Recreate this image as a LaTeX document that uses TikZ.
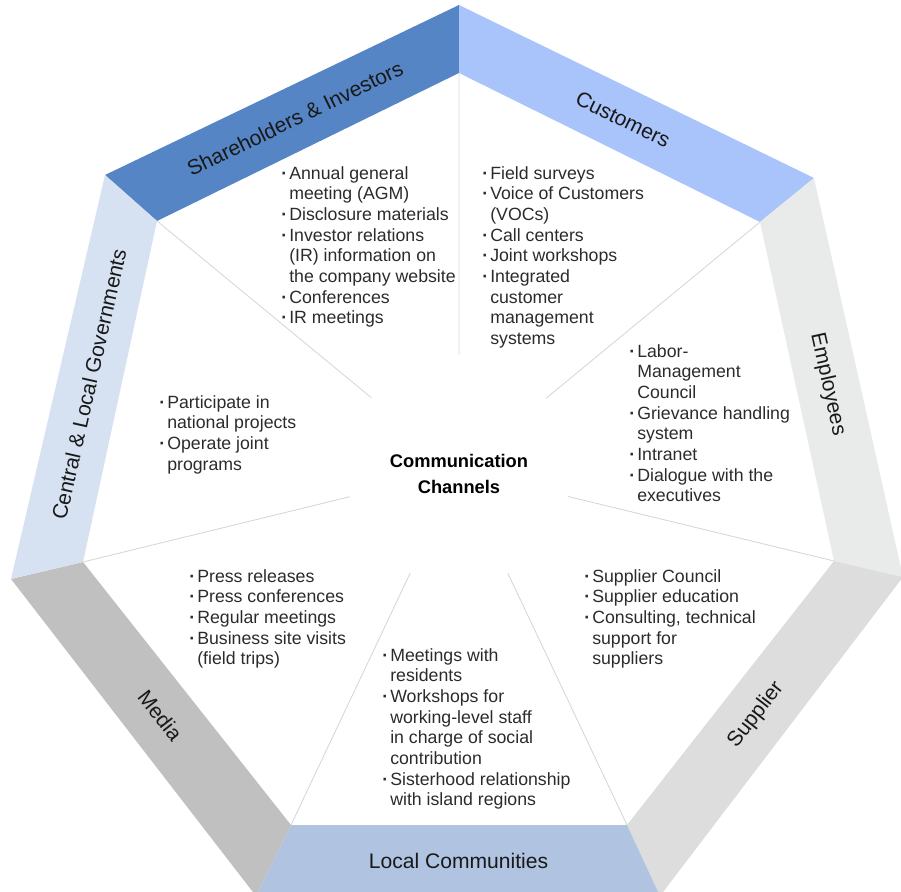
\documentclass[tikz,border=0pt]{standalone}
\usepackage{fontspec}
\setmainfont{Liberation Sans}
\usetikzlibrary{calc}

\definecolor{shareblue}{HTML}{5585C5}
\definecolor{custblue}{HTML}{A9C4FB}
\definecolor{emplgray}{HTML}{E9EBEA}
\definecolor{suppgray}{HTML}{DCDDDC}
\definecolor{commblue}{HTML}{B0C4E2}
\definecolor{mediagray}{HTML}{BFC0BF}
\definecolor{govblue}{HTML}{D6E2F2}
\definecolor{spokegray}{HTML}{D6D6D6}
\definecolor{txtgray}{HTML}{2B2B2B}

\newcommand{\bul}{\leavevmode\llap{{\bfseries\textperiodcentered}\hspace{1.5pt}}}

\begin{document}
\begin{tikzpicture}[x=0.025cm, y=0.025cm,
    spoke/.style={draw=spokegray, line width=0.6pt},
    items/.style={anchor=north west, align=left, inner sep=0pt, text=txtgray,
      font=\fontsize{12.6}{14.7}\selectfont},
    bandlabel/.style={midway, sloped, inner sep=0pt, text=black!90,
      font=\fontsize{15}{18}\selectfont}]
  \clip (0,0) rectangle (901,-892);

  % outer and inner corners of the heptagon
  \coordinate (o0) at (459,-5);
  \coordinate (o1) at (814,-178);
  \coordinate (o2) at (903,-577);
  \coordinate (o3) at (660,-896);
  \coordinate (o4) at (256,-896);
  \coordinate (o5) at (11,-579);
  \coordinate (o6) at (105,-175);
  \coordinate (i0) at (459,-73);
  \coordinate (i1) at (760,-222);
  \coordinate (i2) at (834,-561);
  \coordinate (i3) at (627,-825);
  \coordinate (i4) at (291,-825);
  \coordinate (i5) at (83,-562);
  \coordinate (i6) at (157,-221);
  \coordinate (c) at (459,-470);

  % bands
  \fill[shareblue] (o6) -- (o0) -- (i0) -- (i6) -- cycle;
  \fill[custblue] (o0) -- (o1) -- (i1) -- (i0) -- cycle;
  \fill[emplgray] (o1) -- (o2) -- (i2) -- (i1) -- cycle;
  \fill[suppgray] (o2) -- (o3) -- (i3) -- (i2) -- cycle;
  \fill[commblue] (o3) -- (o4) -- (i4) -- (i3) -- cycle;
  \fill[mediagray] (o4) -- (o5) -- (i5) -- (i4) -- cycle;
  \fill[govblue] (o5) -- (o6) -- (i6) -- (i5) -- cycle;

  % spokes
  \foreach \k in {0,...,6}
    \draw[spoke] (i\k) -- ($(i\k)!0.71!(c)$);

  % band labels
  \path ($(o6)!.5!(i6)$) -- ($(o0)!.5!(i0)$) node[bandlabel] (lblshare) {Shareholders \& Investors};
  \path ($(o0)!.5!(i0)$) -- ($(o1)!.5!(i1)$) node[bandlabel] (lblcust) {Customers};
  \path ($(o1)!.5!(i1)$) -- ($(o2)!.5!(i2)$) node[bandlabel] (lblempl) {Employees};
  \path ($(o2)!.5!(i2)$) -- ($(o3)!.5!(i3)$) node[bandlabel] (lblsupp) {Supplier};
  \path ($(o3)!.5!(i3)$) -- ($(o4)!.5!(i4)$) node[bandlabel] (lblcomm) {Local Communities};
  \path ($(o4)!.5!(i4)$) -- ($(o5)!.5!(i5)$) node[bandlabel] (lblmedia) {Media};
  \path ($(o5)!.5!(i5)$) -- ($(o6)!.5!(i6)$) node[bandlabel] (lblgov) {Central \& Local Governments};

  % centre
  \node[align=center, inner sep=0pt, font=\bfseries\fontsize{13}{19}\selectfont] (hub) at (459,-474)
    {Communication\\Channels};

  % channel lists
  \node[items] (share) at (289,-166) {\bul Annual general\\meeting (AGM)\\\bul Disclosure materials\\
    \bul Investor relations\\(IR) information on\\the company website\\\bul Conferences\\\bul IR meetings};
  \node[items] (cust) at (490,-166) {\bul Field surveys\\\bul Voice of Customers\\(VOCs)\\\bul Call centers\\
    \bul Joint workshops\\\bul Integrated\\customer\\management\\systems};
  \node[items] (empl) at (637,-344) {\bul Labor-\\Management\\Council\\\bul Grievance handling\\system\\
    \bul Intranet\\\bul Dialogue with the\\executives};
  \node[items] (gov) at (167,-395) {\bul Participate in\\national projects\\\bul Operate joint\\programs};
  \node[items] (media) at (197,-569) {\bul Press releases\\\bul Press conferences\\\bul Regular meetings\\
    \bul Business site visits\\(field trips)};
  \node[items] (comm) at (390,-648) {\bul Meetings with\\residents\\\bul Workshops for\\working-level staff\\
    in charge of social\\contribution\\\bul Sisterhood relationship\\with island regions};
  \node[items] (supp) at (592,-569) {\bul Supplier Council\\\bul Supplier education\\\bul Consulting, technical\\
    support for\\suppliers};
\end{tikzpicture}
\end{document}
